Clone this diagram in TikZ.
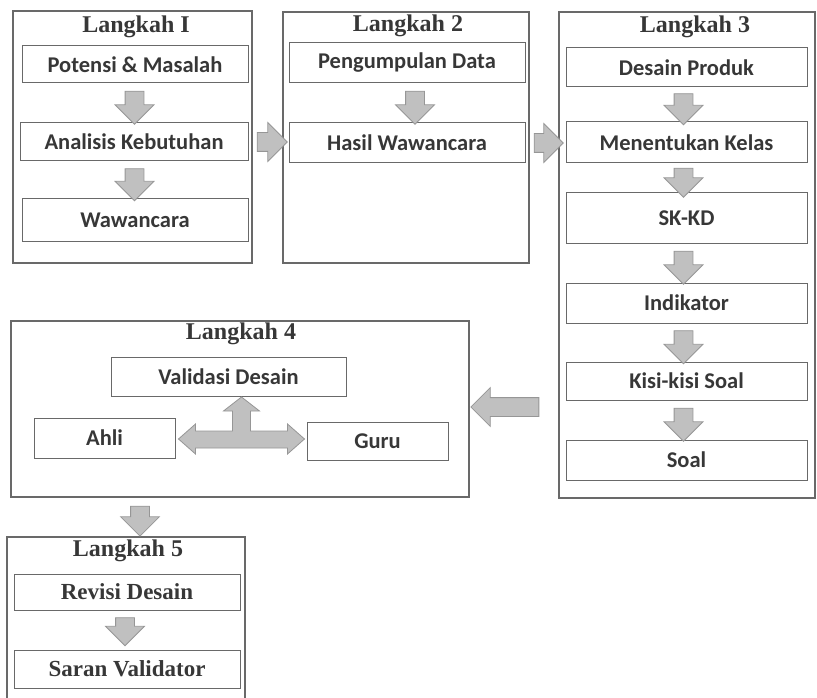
\documentclass[tikz,border=0pt]{standalone}
\usepackage{fontspec}
\setmainfont{Liberation Serif}
\newfontfamily\calibri{Carlito}
\usepackage{tikz}
\usetikzlibrary{calc,shapes.arrows}
\tikzset{>=stealth}
\definecolor{inkgray}{RGB}{55,55,55}
\definecolor{linegray}{RGB}{105,105,105}
\definecolor{arrowfill}{RGB}{192,192,192}
\definecolor{arrowline}{RGB}{150,150,150}
\tikzset{
  stepframe/.style={draw=linegray, line width=1.1pt, inner sep=0pt},
  steptitle/.style={font=\fontsize{24}{28}\selectfont\bfseries, text=inkgray, inner sep=0pt},
  stepitem/.style={draw=linegray, line width=1pt, font=\calibri\bfseries\fontsize{22.5}{27}\selectfont, text=inkgray, inner sep=0pt},
  serifitem/.style={stepitem, font=\fontsize{23}{27}\selectfont\bfseries},
  blk/.style={single arrow, draw=arrowline, fill=arrowfill, line width=0.8pt, inner xsep=0pt, inner ysep=9pt, single arrow head extend=10pt, minimum height=#1},
  blk/.default=32,
  blkdown/.style={blk=#1, rotate=-90},
  blkdown/.default=32,
}

\begin{document}
\begin{tikzpicture}[x=1pt,y=-1pt]
  \useasboundingbox (0,0) rectangle (817,698);
  \clip (0,0) rectangle (817,698);

  % Frames of the five steps
  \node[stepframe, minimum width=239, minimum height=252] (l1) at (132.5,137) {};
  \node[stepframe, minimum width=246, minimum height=251] (l2) at (406,137.5) {};
  \node[stepframe, minimum width=256, minimum height=486] (l3) at (687,255) {};
  \node[stepframe, minimum width=458, minimum height=176] (l4) at (240,409) {};
  \node[stepframe, minimum width=238, minimum height=173] (l5) at (126,623.5) {};

  % Titles of the steps
  \node[steptitle] (t1) at (136,27) {Langkah I};
  \node[steptitle] (t2) at (408,26) {Langkah 2};
  \node[steptitle] (t3) at (695,27) {Langkah 3};
  \node[steptitle] (t4) at (241,334) {Langkah 4};
  \node[steptitle] (t5) at (128,551) {Langkah 5};

  % Step 1
  \node[stepitem, minimum width=226, minimum height=37] (pot) at (135,64.5) {Potensi \& Masalah};
  \node[stepitem, minimum width=228, minimum height=38] (ana) at (134,142) {Analisis Kebutuhan};
  \node[stepitem, minimum width=226, minimum height=42] (waw) at (135,220) {Wawancara};

  % Step 2
  \node[stepitem, minimum width=236, minimum height=40] (pen) at (407,63) {Pengumpulan Data};
  \node[stepitem, minimum width=236, minimum height=40] (has) at (407,143) {Hasil Wawancara};

  % Step 3
  \node[stepitem, minimum width=241, minimum height=39] (des) at (686.5,67.5) {Desain Produk};
  \node[stepitem, minimum width=241, minimum height=41] (men) at (686.5,142.5) {Menentukan Kelas};
  \node[stepitem, minimum width=241, minimum height=50] (skkd) at (686.5,218) {SK-KD};
  \node[stepitem, minimum width=241, minimum height=40] (ind) at (686.5,303) {Indikator};
  \node[stepitem, minimum width=241, minimum height=38] (kis) at (686.5,381) {Kisi-kisi Soal};
  \node[stepitem, minimum width=241, minimum height=40] (soal) at (686.5,460) {Soal};

  % Step 4
  \node[stepitem, minimum width=235, minimum height=39] (val) at (228.5,376.5) {Validasi Desain};
  \node[stepitem, minimum width=141, minimum height=40] (ahli) at (104.5,438) {Ahli};
  \node[stepitem, minimum width=141, minimum height=38] (guru) at (377.5,441) {Guru};

  % Step 5
  \node[serifitem, minimum width=226, minimum height=36] (rev) at (127,592) {Revisi Desain};
  \node[serifitem, minimum width=226, minimum height=38] (sar) at (127,669) {Saran Validator};

  % Arrows inside the steps
  \node[blkdown=33] at ($(pot.south)!.5!(ana.north)$) {};
  \node[blkdown=32] at ($(ana.south)!.5!(waw.north)$) {};
  \node[blkdown=33] at ($(pen.south)!.5!(has.north)+(8,0)$) {};
  \node[blkdown=31] at ($(des.south)!.5!(men.north)+(-3,0)$) {};
  \node[blkdown=29] at ($(men.south)!.5!(skkd.north)+(-3,0)$) {};
  \node[blkdown=33] at ($(skkd.south)!.5!(ind.north)+(-3,0)$) {};
  \node[blkdown=33] at ($(ind.south)!.5!(kis.north)+(-3,0)$) {};
  \node[blkdown=33] at ($(kis.south)!.5!(soal.north)+(-3,0)$) {};
  \node[blkdown=28] at ($(rev.south)!.5!(sar.north)+(-2,-3)$) {};

  % Validasi Desain between Ahli and Guru
  \draw[draw=arrowline, fill=arrowfill, line width=0.8pt] ($(ahli.east)+(3,1)$)
    -- ++(17,-15) -- ++(0,7) -- ++(37,0) -- ++(0,-20) -- ++(-9,0) -- ++(18,-14)
    -- ++(18,14) -- ++(-9,0) -- ++(0,20) -- ++(37,0) -- ++(0,-7) -- ++(17,15)
    -- ++(-17,15) -- ++(0,-6) -- ++(-92,0) -- ++(0,6) -- cycle;

  % Arrows between the steps
  \node[blk=30] at ($(l1.east|-ana)!.5!(l2.west|-ana)$) {};
  \node[blk=29] at ($(l2.east|-has)!.5!(l3.west|-has)$) {};
  \node[blk=68, rotate=180] at ($(l4.east)+(40,-2)$) {};
  \node[blkdown=30] at ($(l5.north)+(14,-20)$) {};

\end{tikzpicture}
\end{document}
